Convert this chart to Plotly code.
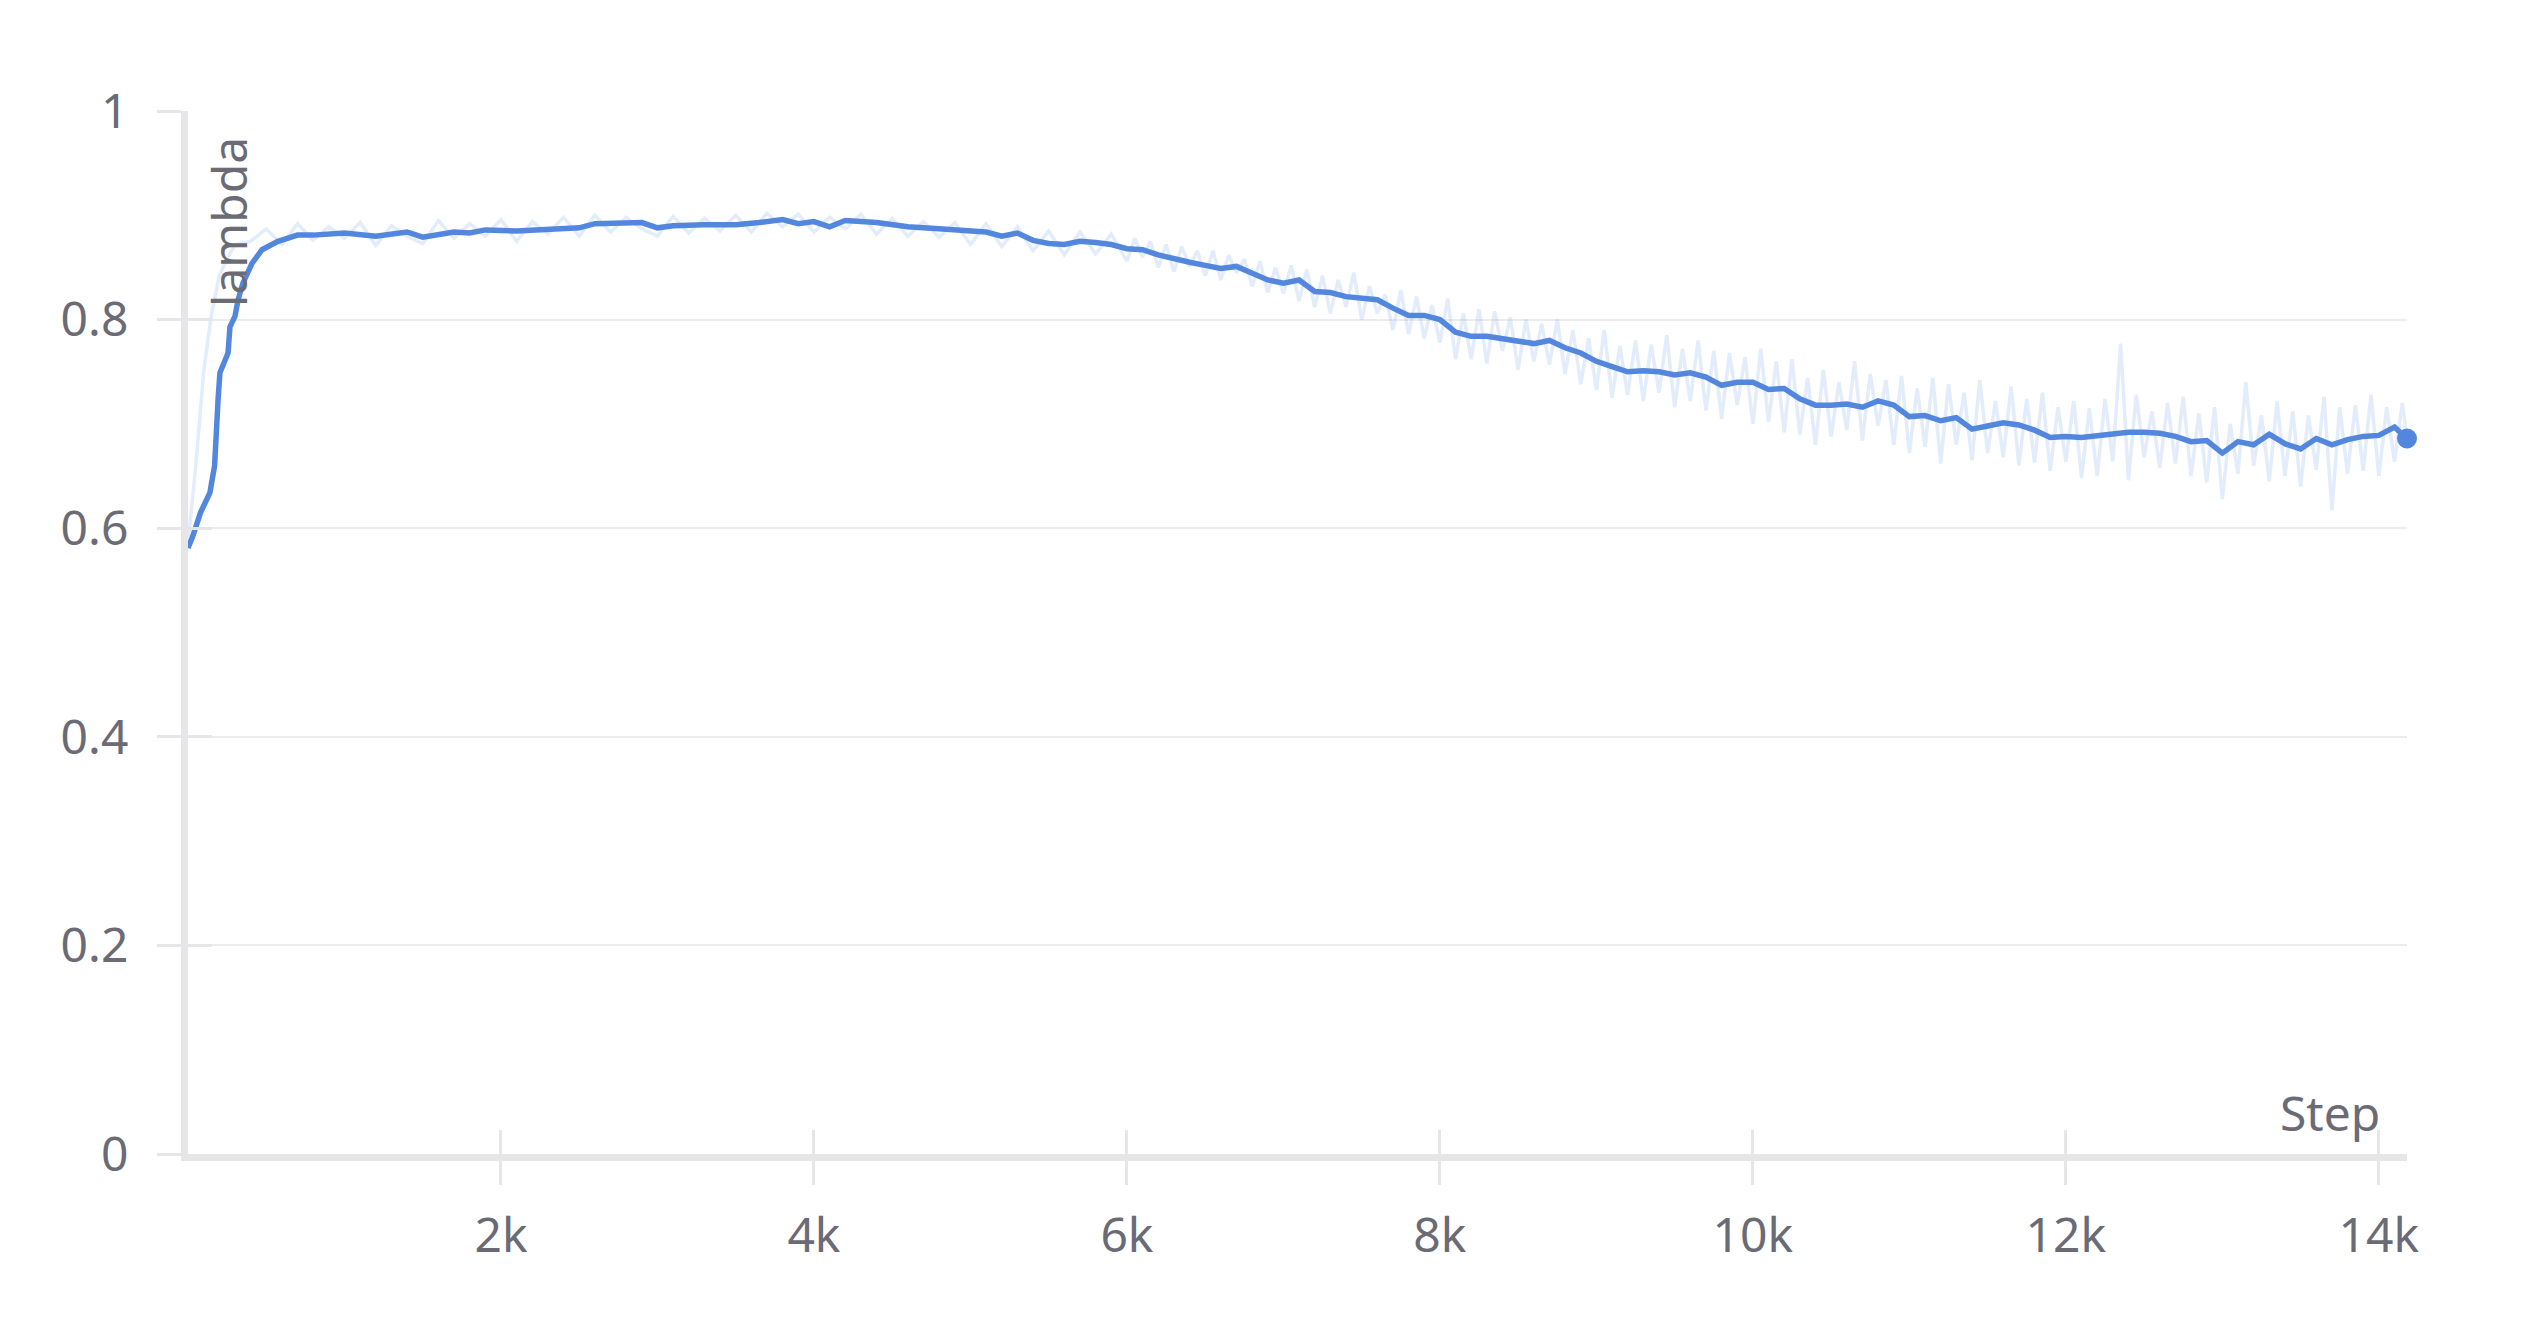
import plotly.graph_objects as go

# smoothed "lambda" curve (step, value)
smooth_steps = [0, 30, 80, 140, 170, 185, 192, 204, 236, 256, 268, 300, 320, 351, 409, 473, 575, 700,
                800, 1000, 1200, 1400, 1500, 1700, 1800, 1900, 2100, 2300, 2500, 2600, 2800, 2900,
                3000, 3100, 3300, 3500, 3650, 3800, 3900, 4000, 4100, 4200, 4400, 4600, 4800, 5000,
                5100, 5200, 5300, 5400, 5500, 5600, 5700, 5800, 5900, 6000, 6100, 6200, 6300, 6400,
                6500, 6600, 6700, 6800, 6900, 7000, 7100, 7200, 7300, 7400, 7500, 7600, 7700, 7800,
                7900, 8000, 8100, 8200, 8300, 8400, 8500, 8600, 8700, 8800, 8900, 9000, 9100, 9200,
                9300, 9400, 9500, 9600, 9700, 9800, 9900, 10000, 10100, 10200, 10300, 10400, 10500,
                10600, 10700, 10800, 10900, 11000, 11100, 11200, 11300, 11400, 11500, 11600, 11700,
                11800, 11900, 12000, 12100, 12200, 12300, 12400, 12500, 12600, 12700, 12800, 12900,
                13000, 13100, 13200, 13300, 13400, 13500, 13600, 13700, 13800, 13900, 14000, 14100,
                14180]
smooth_vals = [0.581, 0.592, 0.615, 0.634, 0.660, 0.691, 0.723, 0.749, 0.761, 0.768, 0.793, 0.803,
               0.819, 0.835, 0.854, 0.867, 0.875, 0.881,
               0.881, 0.883, 0.880, 0.884, 0.879, 0.884, 0.883, 0.886, 0.885, 0.887, 0.888, 0.892,
               0.892, 0.893, 0.888, 0.890, 0.891, 0.891, 0.893, 0.896, 0.892, 0.894, 0.889, 0.895,
               0.893, 0.889, 0.887, 0.885, 0.884, 0.880, 0.883, 0.876, 0.873, 0.872, 0.875, 0.874,
               0.872, 0.868, 0.867, 0.862, 0.858, 0.855, 0.852, 0.849, 0.851, 0.845, 0.838, 0.835,
               0.838, 0.827, 0.826, 0.822, 0.821, 0.819, 0.811, 0.804, 0.804, 0.800, 0.788, 0.784,
               0.784, 0.782, 0.779, 0.777, 0.780, 0.773, 0.768, 0.760, 0.755, 0.750, 0.751, 0.750,
               0.747, 0.749, 0.745, 0.737, 0.740, 0.740, 0.733, 0.734, 0.724, 0.718, 0.718, 0.719,
               0.716, 0.722, 0.718, 0.707, 0.708, 0.703, 0.706, 0.695, 0.698, 0.701, 0.699, 0.694,
               0.687, 0.688, 0.687, 0.689, 0.691, 0.692, 0.692, 0.691, 0.688, 0.683, 0.684, 0.672,
               0.683, 0.680, 0.690, 0.681, 0.676, 0.686, 0.680, 0.685, 0.688, 0.689, 0.697, 0.686]

# raw (unsmoothed) values, drawn faint behind the smoothed line
raw_steps = [0, 50, 100, 150, 200, 250, 300] + list(range(400, 6000, 100)) + list(range(6000, 14151, 50)) + [14180]
raw_vals = [0.585, 0.660, 0.750, 0.805, 0.842, 0.858, 0.872,
            # 400 .. 5900
            0.875, 0.887, 0.872, 0.892, 0.876, 0.889, 0.878, 0.893, 0.871, 0.890, 0.880, 0.873,
            0.895, 0.878, 0.892, 0.880, 0.896, 0.875, 0.894, 0.882, 0.898, 0.880, 0.900, 0.884,
            0.898, 0.887, 0.880, 0.899, 0.883, 0.897, 0.885, 0.900, 0.884, 0.902, 0.889, 0.901,
            0.884, 0.898, 0.887, 0.901, 0.882, 0.897, 0.880, 0.894, 0.879, 0.893, 0.872, 0.892,
            0.870, 0.889, 0.866, 0.885, 0.862, 0.884, 0.863, 0.882,
            # 6000 .. 14150 every 50
            0.856, 0.878, 0.860, 0.875, 0.850, 0.872, 0.846, 0.870, 0.851, 0.866,
            0.842, 0.866, 0.838, 0.862, 0.845, 0.858, 0.832, 0.856, 0.826, 0.850,
            0.825, 0.852, 0.818, 0.848, 0.812, 0.842, 0.806, 0.838, 0.812, 0.845,
            0.800, 0.832, 0.806, 0.824, 0.790, 0.828, 0.786, 0.822, 0.782, 0.814,
            0.778, 0.820, 0.762, 0.806, 0.762, 0.810, 0.758, 0.808, 0.770, 0.802,
            0.752, 0.800, 0.760, 0.796, 0.757, 0.800, 0.748, 0.790, 0.738, 0.782,
            0.733, 0.790, 0.725, 0.775, 0.728, 0.780, 0.722, 0.776, 0.730, 0.785,
            0.716, 0.772, 0.722, 0.780, 0.713, 0.770, 0.705, 0.768, 0.718, 0.764,
            0.700, 0.772, 0.702, 0.760, 0.692, 0.762, 0.690, 0.744, 0.680, 0.752,
            0.688, 0.740, 0.694, 0.760, 0.684, 0.748, 0.698, 0.742, 0.680, 0.746,
            0.672, 0.734, 0.678, 0.744, 0.662, 0.738, 0.680, 0.730, 0.665, 0.742,
            0.672, 0.722, 0.668, 0.736, 0.660, 0.724, 0.663, 0.730, 0.655, 0.716,
            0.664, 0.722, 0.648, 0.715, 0.650, 0.724, 0.664, 0.777, 0.646, 0.728,
            0.668, 0.712, 0.658, 0.720, 0.662, 0.726, 0.650, 0.710, 0.644, 0.716,
            0.628, 0.700, 0.652, 0.740, 0.660, 0.708, 0.645, 0.722, 0.650, 0.712,
            0.640, 0.708, 0.656, 0.726, 0.617, 0.716, 0.652, 0.718, 0.655, 0.728,
            0.650, 0.716, 0.664, 0.720,
            0.686]

y_ticks = [0, 0.2, 0.4, 0.6, 0.8, 1]
y_ticktext = ["0", "0.2", "0.4", "0.6", "0.8", "1"]
x_ticks = [2000, 4000, 6000, 8000, 10000, 12000, 14000]
x_ticktext = ["2k", "4k", "6k", "8k", "10k", "12k", "14k"]

BLUE = "rgb(83,135,221)"
AXIS = "#e6e6e9"
GRID = "#ececee"
TEXT = "#6b6b76"
FONT = "Noto Sans"

fig = go.Figure()

fig.add_trace(go.Scatter(
    x=raw_steps, y=raw_vals, mode="lines",
    line=dict(color="rgba(83,135,221,0.16)", width=3.5),
    hoverinfo="skip", showlegend=False
))

fig.add_trace(go.Scatter(
    x=smooth_steps, y=smooth_vals, mode="lines",
    line=dict(color=BLUE, width=5.5),
    name="lambda", showlegend=False
))

# dot on the last point
fig.add_trace(go.Scatter(
    x=smooth_steps[-1:], y=smooth_vals[-1:], mode="markers",
    marker=dict(color=BLUE, size=20),
    cliponaxis=False, showlegend=False
))

# empty trace so the overlay axes (inner tick marks) get drawn
fig.add_trace(go.Scatter(x=[], y=[], xaxis="x2", yaxis="y2", showlegend=False))

x_range = [0, smooth_steps[-1]]

# the page body adds 8px, so margins are trimmed by that
fig.update_layout(
    width=2528, height=1328,
    margin=dict(l=180, r=129, t=103, b=182),
    paper_bgcolor="white", plot_bgcolor="white",
    font=dict(family=FONT, size=48, color=TEXT),
    xaxis=dict(
        range=x_range, tickvals=x_ticks, ticktext=x_ticktext,
        showgrid=False, zeroline=False,
        showline=True, linecolor=AXIS, linewidth=7,
        ticks="outside", ticklen=24, tickwidth=3, tickcolor=AXIS,
        ticklabelstandoff=9,
        tickfont=dict(family=FONT, size=48, color=TEXT),
    ),
    yaxis=dict(
        range=[0, 1], tickvals=y_ticks, ticktext=y_ticktext,
        showgrid=True, gridcolor=GRID, gridwidth=2, zeroline=False,
        showline=True, linecolor=AXIS, linewidth=7,
        ticks="outside", ticklen=24, tickwidth=3, tickcolor=AXIS,
        ticklabelstandoff=19,
        tickfont=dict(family=FONT, size=48, color=TEXT),
    ),
    xaxis2=dict(
        overlaying="x", matches="x", range=x_range, tickvals=x_ticks,
        showticklabels=False, showgrid=False, zeroline=False, showline=False,
        ticks="inside", ticklen=24, tickwidth=3, tickcolor=AXIS,
    ),
    yaxis2=dict(
        overlaying="y", matches="y", range=[0, 1], tickvals=y_ticks,
        showticklabels=False, showgrid=False, zeroline=False, showline=False,
        ticks="inside", ticklen=24, tickwidth=3, tickcolor=AXIS,
    ),
    hovermode="x",
)

# axis titles sit inside the plot like in the original
fig.add_annotation(
    text="lambda", textangle=-90, showarrow=False,
    xref="paper", yref="paper", x=0, y=1,
    xanchor="center", yanchor="top", xshift=40, yshift=-24,
    font=dict(family=FONT, size=48, color=TEXT)
)
fig.add_annotation(
    text="Step", showarrow=False,
    xref="paper", yref="paper", x=1, y=0,
    xanchor="right", yanchor="middle", xshift=-25, yshift=42,
    font=dict(family=FONT, size=48, color=TEXT)
)

fig.write_html("out.html")
